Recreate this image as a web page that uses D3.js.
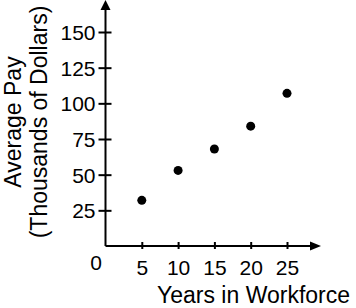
<!DOCTYPE html>
<html>
<head>
<meta charset="utf-8">
<script src="https://cdn.jsdelivr.net/npm/d3@7"></script>
<style>
  html, body { margin: 0; padding: 0; background: #fff; }
  svg { display: block; }
  text { font-family: "Liberation Sans", Arial, sans-serif; fill: #000; }
</style>
</head>
<body>
<svg id="chart" width="356" height="308"></svg>
<script>
// ---- data ----
const years = [5, 10, 15, 20, 25];
const avgPay = [32, 53, 68, 84, 107];
const xTicks = [5, 10, 15, 20, 25];
const yTicks = [25, 50, 75, 100, 125, 150];
const xTitle = "Years in Workforce";
const yTitleLines = ["Average Pay", "(Thousands of Dollars)"];

const svg = d3.select("#chart");
const x0 = 105.5, y0 = 246;
const x = d3.scaleLinear().domain([0, 25]).range([x0, 287]);
const y = d3.scaleLinear().domain([0, 150]).range([y0, 32]);

// axis lines
svg.append("line").attr("x1", x0).attr("x2", 313).attr("y1", y0).attr("y2", y0)
  .attr("stroke", "#000").attr("stroke-width", 2);
svg.append("line").attr("x1", x0).attr("x2", x0).attr("y1", y0).attr("y2", 8)
  .attr("stroke", "#000").attr("stroke-width", 2);
// arrows
svg.append("path").attr("d", `M${x0},0 L${x0 - 5},10 L${x0 + 5},10 Z`).attr("fill", "#000");
svg.append("path").attr("d", `M321,${y0} L310,${y0 - 4.5} L310,${y0 + 4.5} Z`).attr("fill", "#000");

// y axis via d3
const yAxis = d3.axisLeft(y).tickValues(yTicks).tickSize(0).tickPadding(0);
const gy = svg.append("g").attr("transform", `translate(${x0},0)`).call(yAxis);
gy.select(".domain").remove();
gy.selectAll(".tick line").attr("x1", -7).attr("x2", 6).attr("stroke", "#000").attr("stroke-width", 2);
gy.selectAll(".tick text").attr("x", -10).attr("dy", "0.36em")
  .style("font-size", "21px").style("font-family", "Liberation Sans, Arial, sans-serif").attr("fill", "#000");

// x axis via d3
const xAxis = d3.axisBottom(x).tickValues(xTicks).tickSize(0).tickPadding(0);
const gx = svg.append("g").attr("transform", `translate(0,${y0})`).call(xAxis);
gx.select(".domain").remove();
gx.selectAll(".tick line").attr("y1", -4).attr("y2", 3).attr("stroke", "#000").attr("stroke-width", 2);
gx.selectAll(".tick text").attr("y", 29).attr("dy", 0)
  .style("font-size", "21px").style("font-family", "Liberation Sans, Arial, sans-serif").attr("fill", "#000");

// origin label
svg.append("text").attr("x", 96).attr("y", 270).attr("text-anchor", "middle")
  .style("font-size", "21px").text("0");

// points
svg.selectAll("circle.pt").data(years).enter().append("circle")
  .attr("class", "pt")
  .attr("cx", d => x(d)).attr("cy", (d, i) => y(avgPay[i])).attr("r", 4.5).attr("fill", "#000");

// titles
svg.append("text").attr("x", 157).attr("y", 303).style("font-size", "23px").text(xTitle);
const yt = svg.append("text").attr("transform", "translate(21,122) rotate(-90)")
  .attr("text-anchor", "middle").style("font-size", "23px");
yt.append("tspan").attr("x", 0).attr("y", 0).text(yTitleLines[0]);
yt.append("tspan").attr("x", 0).attr("y", 26).text(yTitleLines[1]);
</script>
</body>
</html>
